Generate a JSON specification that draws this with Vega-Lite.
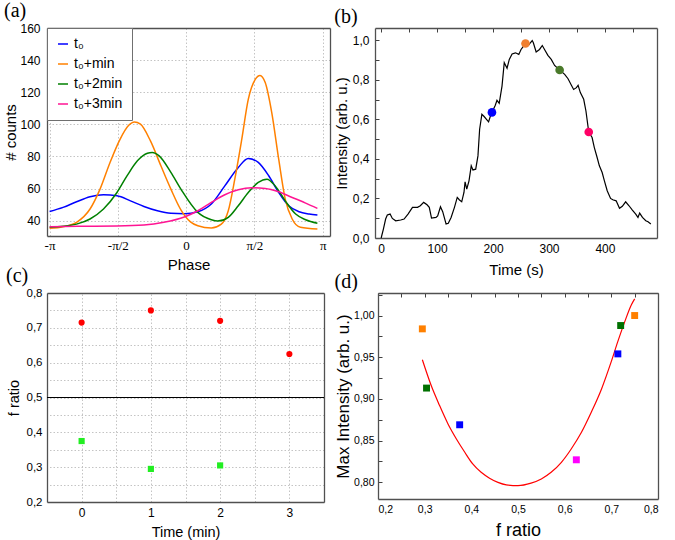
{
  "$schema": "https://vega.github.io/schema/vega-lite/v6.json",
  "padding": {"left": 3, "top": 1, "right": 2, "bottom": 1},
  "background": "white",
  "config": {
    "font": "Liberation Sans",
    "view": {"stroke": null},
    "axis": {
      "grid": true, "gridColor": "#bdbdbd", "gridDash": [1.5, 2], "gridWidth": 0.9,
      "domain": true, "domainColor": "#505050", "domainWidth": 1.3,
      "ticks": false,
      "labelFont": "Liberation Sans", "labelFontSize": 12, "labelColor": "black",
      "titleFont": "Liberation Sans", "titleFontSize": 15, "titleFontWeight": "normal", "titleColor": "black",
      "titlePadding": 3
    },
    "axisX": {"labelPadding": 5},
    "axisY": {"labelPadding": 6},
    "title": {"font": "Liberation Serif", "fontSize": 20, "fontWeight": "normal", "anchor": "start", "frame": "bounds", "offset": 1, "color": "black"}
  },
  "resolve": {"scale": {"color": "independent", "shape": "independent"}, "legend": {"color": "independent"}},
  "columns": 1,
  "spacing": -11,
  "concat": [
    {
      "columns": 2,
      "spacing": 4,
      "resolve": {"scale": {"color": "independent", "shape": "independent"}, "legend": {"color": "independent"}},
      "concat": [
        {
          "title": {"text": "(a)", "dx": 0},
          "width": 283, "height": 208,
          "data": {"values": [
            {"s":"t₀","p":-3.14,"c":45.7},{"s":"t₀","p":-2.83,"c":48.3},{"s":"t₀","p":-2.52,"c":51.8},{"s":"t₀","p":-2.21,"c":54.9},{"s":"t₀","p":-1.9,"c":56.2},{"s":"t₀","p":-1.59,"c":55.5},{"s":"t₀","p":-1.28,"c":52.4},{"s":"t₀","p":-0.97,"c":48.9},{"s":"t₀","p":-0.66,"c":46.2},{"s":"t₀","p":-0.35,"c":44.6},{"s":"t₀","p":-0.04,"c":44.3},{"s":"t₀","p":0.27,"c":45.6},{"s":"t₀","p":0.58,"c":50.4},{"s":"t₀","p":0.89,"c":61.7},{"s":"t₀","p":1.2,"c":73.2},{"s":"t₀","p":1.43,"c":78.8},{"s":"t₀","p":1.66,"c":76.3},{"s":"t₀","p":1.9,"c":68.0},{"s":"t₀","p":2.13,"c":57.6},{"s":"t₀","p":2.36,"c":49.3},{"s":"t₀","p":2.6,"c":45.6},{"s":"t₀","p":2.83,"c":44.2},{"s":"t₀","p":3.02,"c":43.5},
            {"s":"t₀+min","p":-3.14,"c":35.3},{"s":"t₀+min","p":-2.83,"c":36.3},{"s":"t₀+min","p":-2.52,"c":39.0},{"s":"t₀+min","p":-2.21,"c":47.3},{"s":"t₀+min","p":-1.98,"c":59.7},{"s":"t₀+min","p":-1.75,"c":76.3},{"s":"t₀+min","p":-1.52,"c":90.7},{"s":"t₀+min","p":-1.32,"c":99.4},{"s":"t₀+min","p":-1.19,"c":101.5},{"s":"t₀+min","p":-1.05,"c":100.1},{"s":"t₀+min","p":-0.82,"c":89.7},{"s":"t₀+min","p":-0.58,"c":74.2},{"s":"t₀+min","p":-0.35,"c":59.7},{"s":"t₀+min","p":-0.12,"c":46.8},{"s":"t₀+min","p":0.1,"c":39.3},{"s":"t₀+min","p":0.27,"c":36.9},{"s":"t₀+min","p":0.58,"c":35.5},{"s":"t₀+min","p":0.81,"c":37.9},{"s":"t₀+min","p":0.97,"c":46.2},{"s":"t₀+min","p":1.12,"c":65.9},{"s":"t₀+min","p":1.28,"c":90.7},{"s":"t₀+min","p":1.43,"c":115.6},{"s":"t₀+min","p":1.59,"c":128.0},{"s":"t₀+min","p":1.7,"c":130.5},{"s":"t₀+min","p":1.82,"c":126.0},{"s":"t₀+min","p":1.97,"c":107.3},{"s":"t₀+min","p":2.13,"c":78.3},{"s":"t₀+min","p":2.28,"c":53.5},{"s":"t₀+min","p":2.44,"c":41.1},{"s":"t₀+min","p":2.63,"c":35.9},{"s":"t₀+min","p":3.02,"c":34.8},
            {"s":"t₀+2min","p":-3.14,"c":35.9},{"s":"t₀+2min","p":-2.83,"c":36.5},{"s":"t₀+2min","p":-2.52,"c":37.9},{"s":"t₀+2min","p":-2.21,"c":41.1},{"s":"t₀+2min","p":-1.9,"c":47.3},{"s":"t₀+2min","p":-1.59,"c":57.6},{"s":"t₀+2min","p":-1.36,"c":67.9},{"s":"t₀+2min","p":-1.12,"c":77.3},{"s":"t₀+2min","p":-0.89,"c":82.0},{"s":"t₀+2min","p":-0.78,"c":82.5},{"s":"t₀+2min","p":-0.62,"c":80.4},{"s":"t₀+2min","p":-0.35,"c":70.1},{"s":"t₀+2min","p":-0.12,"c":59.7},{"s":"t₀+2min","p":0.27,"c":45.2},{"s":"t₀+2min","p":0.58,"c":40.6},{"s":"t₀+2min","p":0.73,"c":39.8},{"s":"t₀+2min","p":0.97,"c":42.1},{"s":"t₀+2min","p":1.2,"c":49.3},{"s":"t₀+2min","p":1.43,"c":57.6},{"s":"t₀+2min","p":1.66,"c":63.9},{"s":"t₀+2min","p":1.86,"c":65.9},{"s":"t₀+2min","p":2.05,"c":61.7},{"s":"t₀+2min","p":2.28,"c":52.4},{"s":"t₀+2min","p":2.52,"c":44.2},{"s":"t₀+2min","p":2.75,"c":40.6},{"s":"t₀+2min","p":3.02,"c":38.4},
            {"s":"t₀+3min","p":-3.14,"c":36.3},{"s":"t₀+3min","p":-2.5,"c":36.5},{"s":"t₀+3min","p":-1.6,"c":36.7},{"s":"t₀+3min","p":-0.97,"c":37.3},{"s":"t₀+3min","p":-0.51,"c":39.0},{"s":"t₀+3min","p":-0.04,"c":42.3},{"s":"t₀+3min","p":0.27,"c":46.2},{"s":"t₀+3min","p":0.58,"c":51.4},{"s":"t₀+3min","p":0.89,"c":56.2},{"s":"t₀+3min","p":1.2,"c":59.3},{"s":"t₀+3min","p":1.51,"c":60.5},{"s":"t₀+3min","p":1.82,"c":60.1},{"s":"t₀+3min","p":2.13,"c":58.0},{"s":"t₀+3min","p":2.44,"c":54.5},{"s":"t₀+3min","p":2.75,"c":51.0},{"s":"t₀+3min","p":3.02,"c":47.7}
          ]},
          "resolve": {"axis": {"x": "independent", "y": "independent"}},
          "layer": [
            {
              "mark": {"type": "point", "opacity": 0},
              "encoding": {
                "x": {"field": "p", "type": "quantitative",
                      "axis": {"orient": "top", "labels": false, "title": null, "domain": true,
                               "values": [-3.14159, -1.5708, 0, 1.5708, 3.14159]}},
                "y": {"field": "c", "type": "quantitative",
                      "axis": {"orient": "right", "labels": false, "title": null, "domain": true,
                               "values": [40, 60, 80, 100, 120, 140, 160]}}
              }
            },
            {
              "mark": {"type": "point", "opacity": 0},
              "encoding": {
                "x": {"field": "p", "type": "quantitative",
                      "axis": {"orient": "top", "labels": false, "title": null, "domain": false, "gridDash": [4, 1000], "gridColor": "#404040", "gridWidth": 1,
                               "values": [-3.14159, -2.35619, -1.5708, -0.7854, 0, 0.7854, 1.5708, 2.35619, 3.14159]}},
                "y": {"field": "c", "type": "quantitative",
                      "axis": {"orient": "right", "labels": false, "title": null, "domain": false, "gridDash": [4, 1000], "gridColor": "#404040", "gridWidth": 1,
                               "values": [40, 50, 60, 70, 80, 90, 100, 110, 120, 130, 140, 150, 160]}}
              }
            },
            {
              "mark": {"type": "line", "interpolate": "monotone", "strokeWidth": 1.5},
              "encoding": {
                "x": {"field": "p", "type": "quantitative", "scale": {"domain": [-3.2, 3.31], "nice": false, "zero": false},
                      "axis": {"title": "Phase", "values": [-3.14159, -2.35619, -1.5708, -0.7854, 0, 0.7854, 1.5708, 2.35619, 3.14159],
                               "gridDash": [4, 1000], "gridColor": "#404040", "gridWidth": 1,
                               "labelExpr": "datum.value < -3 ? '-π' : datum.value < -1.6 ? '' : datum.value < -1 ? '-π/2' : datum.value > 3 ? 'π' : datum.value > 1.6 ? '' : datum.value > 1 ? 'π/2' : abs(datum.value) < 0.1 ? '0' : ''",
                               "labelFont": "Liberation Serif", "labelFontSize": 13, "labelPadding": 3, "titlePadding": 5}},
                "y": {"field": "c", "type": "quantitative", "scale": {"domain": [30.5, 160], "nice": false, "zero": false},
                      "axis": {"title": "# counts", "values": [40, 50, 60, 70, 80, 90, 100, 110, 120, 130, 140, 150, 160],
                               "gridDash": [4, 1000], "gridColor": "#404040", "gridWidth": 1,
                               "labelExpr": "datum.value % 20 == 0 ? format(datum.value, 'd') : ''", "labelPadding": 7, "titlePadding": 1}},
                "color": {"field": "s", "type": "nominal",
                          "scale": {"domain": ["t₀", "t₀+min", "t₀+2min", "t₀+3min"], "range": ["#0000ff", "#ff8000", "#008000", "#ff1493"]},
                          "legend": {"title": null, "orient": "none", "legendX": 0, "legendY": 0, "fillColor": "white", "strokeColor": "#707070",
                                     "padding": 9, "labelFontSize": 14, "labelFont": "Liberation Sans", "labelColor": "black", "rowPadding": 6}}
              }
            }
          ]
        },
        {
          "title": {"text": "(b)", "dx": 0},
          "width": 282, "height": 210,
          "resolve": {"axis": {"x": "independent", "y": "independent"}},
          "layer": [
            {
              "data": {"values": [
                {"t":0,"i":0.0},{"t":4,"i":0.045},{"t":8,"i":0.096},{"t":11,"i":0.116},{"t":16,"i":0.121},{"t":20,"i":0.099},{"t":26,"i":0.087},{"t":35,"i":0.091},{"t":41,"i":0.096},{"t":48,"i":0.121},{"t":56,"i":0.155},{"t":65,"i":0.155},{"t":70,"i":0.163},{"t":76,"i":0.18},{"t":82,"i":0.168},{"t":86,"i":0.155},{"t":90,"i":0.101},{"t":98,"i":0.104},{"t":101,"i":0.112},{"t":106,"i":0.158},{"t":110,"i":0.133},{"t":116,"i":0.071},{"t":120,"i":0.074},{"t":125,"i":0.104},{"t":131,"i":0.155},{"t":136,"i":0.205},{"t":140,"i":0.192},{"t":144,"i":0.183},{"t":148,"i":0.23},{"t":150,"i":0.284},{"t":153,"i":0.247},{"t":157,"i":0.289},{"t":161,"i":0.365},{"t":164,"i":0.344},{"t":169,"i":0.348},{"t":173,"i":0.415},{"t":176,"i":0.55},{"t":180,"i":0.625},{"t":184,"i":0.614},{"t":189,"i":0.597},{"t":192,"i":0.587},{"t":195,"i":0.614},{"t":198,"i":0.635},{"t":204,"i":0.671},{"t":207,"i":0.696},{"t":211,"i":0.681},{"t":216,"i":0.768},{"t":220,"i":0.886},{"t":225,"i":0.858},{"t":229,"i":0.903},{"t":234,"i":0.93},{"t":240,"i":0.936},{"t":246,"i":0.928},{"t":250,"i":0.953},{"t":258,"i":0.983},{"t":264,"i":0.978},{"t":270,"i":0.998},{"t":272,"i":0.987},{"t":277,"i":0.94},{"t":283,"i":0.953},{"t":288,"i":0.973},{"t":292,"i":0.953},{"t":298,"i":0.923},{"t":304,"i":0.903},{"t":310,"i":0.872},{"t":319,"i":0.849},{"t":328,"i":0.827},{"t":334,"i":0.805},{"t":340,"i":0.772},{"t":344,"i":0.751},{"t":349,"i":0.76},{"t":352,"i":0.772},{"t":356,"i":0.735},{"t":362,"i":0.701},{"t":366,"i":0.642},{"t":371,"i":0.536},{"t":377,"i":0.508},{"t":381,"i":0.457},{"t":386,"i":0.407},{"t":390,"i":0.365},{"t":395,"i":0.331},{"t":399,"i":0.289},{"t":404,"i":0.239},{"t":410,"i":0.2},{"t":414,"i":0.193},{"t":420,"i":0.188},{"t":426,"i":0.15},{"t":431,"i":0.16},{"t":437,"i":0.183},{"t":443,"i":0.163},{"t":449,"i":0.141},{"t":455,"i":0.121},{"t":459,"i":0.104},{"t":462,"i":0.126},{"t":467,"i":0.104},{"t":473,"i":0.087},{"t":477,"i":0.082},{"t":482,"i":0.071}
              ]},
              "mark": {"type": "line", "color": "black", "strokeWidth": 1.2},
              "encoding": {
                "x": {"field": "t", "type": "quantitative", "scale": {"domain": [-11, 493], "nice": false, "zero": false},
                      "axis": {"title": "Time (s)", "values": [0, 50, 100, 150, 200, 250, 300, 350, 400, 450],
                               "gridDash": [4, 1000], "gridColor": "#404040", "gridWidth": 1,
                               "labelExpr": "datum.value % 100 == 0 ? format(datum.value, 'd') : ''", "labelPadding": 5, "titlePadding": 8}},
                "y": {"field": "i", "type": "quantitative", "scale": {"domain": [0, 1.0615], "nice": false, "zero": false},
                      "axis": {"title": "Intensity (arb. u.)", "values": [0, 0.1, 0.2, 0.3, 0.4, 0.5, 0.6, 0.7, 0.8, 0.9, 1.0],
                               "gridDash": [4, 1000], "gridColor": "#404040", "gridWidth": 1,
                               "labelExpr": "round(datum.value * 10) % 2 == 0 ? replace(format(datum.value, '.1f'), '.', ',') : ''", "labelPadding": 6, "titlePadding": 3}}
              }
            },
            {
              "data": {"values": [
                {"s":"t₀","t":198,"i":0.635},{"s":"t₀+min","t":258,"i":0.983},{"s":"t₀+2min","t":319,"i":0.849},{"s":"t₀+3min","t":371,"i":0.536}
              ]},
              "mark": {"type": "point", "opacity": 0},
              "encoding": {
                "x": {"field": "t", "type": "quantitative",
                      "axis": {"orient": "top", "labels": false, "title": null, "domain": true, "values": [0, 50, 100, 150, 200, 250, 300, 350, 400, 450]}},
                "y": {"field": "i", "type": "quantitative",
                      "axis": {"orient": "right", "labels": false, "title": null, "domain": true, "values": [0, 0.1, 0.2, 0.3, 0.4, 0.5, 0.6, 0.7, 0.8, 0.9, 1.0]}}
              }
            },
            {
              "data": {"values": [
                {"s":"t₀","t":198,"i":0.635},{"s":"t₀+min","t":258,"i":0.983},{"s":"t₀+2min","t":319,"i":0.849},{"s":"t₀+3min","t":371,"i":0.536}
              ]},
              "mark": {"type": "point", "opacity": 0},
              "encoding": {
                "x": {"field": "t", "type": "quantitative",
                      "axis": {"orient": "top", "labels": false, "title": null, "domain": false, "gridDash": [4, 1000], "gridColor": "#404040", "gridWidth": 1,
                               "values": [0, 50, 100, 150, 200, 250, 300, 350, 400, 450]}},
                "y": {"field": "i", "type": "quantitative",
                      "axis": {"orient": "right", "labels": false, "title": null, "domain": false, "gridDash": [4, 1000], "gridColor": "#404040", "gridWidth": 1,
                               "values": [0, 0.1, 0.2, 0.3, 0.4, 0.5, 0.6, 0.7, 0.8, 0.9, 1.0]}}
              }
            },
            {
              "data": {"values": [
                {"s":"t₀","t":198,"i":0.635},{"s":"t₀+min","t":258,"i":0.983},{"s":"t₀+2min","t":319,"i":0.849},{"s":"t₀+3min","t":371,"i":0.536}
              ]},
              "mark": {"type": "circle", "size": 75, "opacity": 1},
              "encoding": {
                "x": {"field": "t", "type": "quantitative", "axis": null},
                "y": {"field": "i", "type": "quantitative", "axis": null},
                "color": {"field": "s", "type": "nominal", "legend": null,
                          "scale": {"domain": ["t₀", "t₀+min", "t₀+2min", "t₀+3min"], "range": ["#0000ff", "#f08030", "#4a7a2a", "#ff0066"]}}
              }
            }
          ]
        }
      ]
    },
    {
      "columns": 2,
      "spacing": 9,
      "resolve": {"scale": {"color": "independent", "shape": "independent"}, "legend": {"color": "independent"}},
      "concat": [
        {
          "title": {"text": "(c)", "dx": 0},
          "width": 277, "height": 209,
          "data": {"values": [
            {"m":0,"f":0.715,"g":"high"},{"m":1,"f":0.75,"g":"high"},{"m":2,"f":0.72,"g":"high"},{"m":3,"f":0.625,"g":"high"},
            {"m":0,"f":0.375,"g":"low"},{"m":1,"f":0.295,"g":"low"},{"m":2,"f":0.305,"g":"low"}
          ]},
          "resolve": {"axis": {"x": "independent", "y": "independent"}},
          "layer": [
            {
              "mark": {"type": "point", "opacity": 0},
              "encoding": {
                "x": {"field": "m", "type": "quantitative",
                      "axis": {"orient": "top", "labels": false, "title": null, "domain": true, "values": [0, 0.5, 1, 1.5, 2, 2.5, 3]}},
                "y": {"field": "f", "type": "quantitative",
                      "axis": {"orient": "right", "labels": false, "title": null, "domain": true, "values": [0.2, 0.25, 0.3, 0.35, 0.4, 0.45, 0.5, 0.55, 0.6, 0.65, 0.7, 0.75, 0.8]}}
              }
            },
            {
              "mark": {"type": "point", "opacity": 0},
              "encoding": {
                "x": {"field": "m", "type": "quantitative",
                      "axis": {"orient": "top", "labels": false, "title": null, "domain": false, "gridDash": [4, 1000], "gridColor": "#404040", "gridWidth": 1,
                               "values": [0, 0.5, 1, 1.5, 2, 2.5, 3]}},
                "y": {"field": "f", "type": "quantitative",
                      "axis": {"orient": "right", "labels": false, "title": null, "domain": false, "gridDash": [4, 1000], "gridColor": "#404040", "gridWidth": 1,
                               "values": [0.2, 0.25, 0.3, 0.35, 0.4, 0.45, 0.5, 0.55, 0.6, 0.65, 0.7, 0.75, 0.8]}}
              }
            },
            {
              "mark": {"type": "point", "filled": true, "opacity": 1, "size": 38},
              "encoding": {
                "x": {"field": "m", "type": "quantitative", "scale": {"domain": [-0.5, 3.5], "nice": false, "zero": false},
                      "axis": {"title": "Time (min)", "values": [0, 0.5, 1, 1.5, 2, 2.5, 3], "titleFontSize": 14.5,
                               "gridDash": [4, 1000], "gridColor": "#404040", "gridWidth": 1,
                               "labelExpr": "datum.value % 1 == 0 ? format(datum.value, 'd') : ''", "labelPadding": 5, "titlePadding": 7}},
                "y": {"field": "f", "type": "quantitative", "scale": {"domain": [0.2, 0.8], "nice": false, "zero": false},
                      "axis": {"title": "f ratio", "values": [0.2, 0.25, 0.3, 0.35, 0.4, 0.45, 0.5, 0.55, 0.6, 0.65, 0.7, 0.75, 0.8], "titleFontSize": 14.5, "labelFontSize": 11.5,
                               "gridDash": [4, 1000], "gridColor": "#404040", "gridWidth": 1,
                               "labelExpr": "abs(datum.value * 10 - round(datum.value * 10)) < 0.01 ? replace(format(datum.value, '.1f'), '.', ',') : ''", "labelPadding": 5, "titlePadding": 5}},
                "shape": {"field": "g", "type": "nominal", "legend": null, "scale": {"domain": ["high", "low"], "range": ["circle", "square"]}},
                "color": {"field": "g", "type": "nominal", "legend": null, "scale": {"domain": ["high", "low"], "range": ["#ff0000", "#22ee22"]}}
              }
            },
            {
              "mark": {"type": "rule", "color": "black", "strokeWidth": 1.1},
              "encoding": {"y": {"datum": 0.5, "type": "quantitative", "axis": null}}
            }
          ]
        },
        {
          "title": {"text": "(d)", "dx": 0},
          "width": 280, "height": 206,
          "resolve": {"axis": {"x": "independent", "y": "independent"}},
          "layer": [
            {
              "data": {"values": [
                {"f":0.295,"v":0.947},{"f":0.314,"v":0.916},{"f":0.332,"v":0.892},{"f":0.35,"v":0.870},{"f":0.368,"v":0.852},{"f":0.386,"v":0.836},{"f":0.403,"v":0.822},{"f":0.421,"v":0.812},{"f":0.439,"v":0.805},{"f":0.457,"v":0.800},{"f":0.475,"v":0.797},{"f":0.5,"v":0.796},{"f":0.528,"v":0.799},{"f":0.55,"v":0.804},{"f":0.571,"v":0.812},{"f":0.593,"v":0.824},{"f":0.614,"v":0.840},{"f":0.636,"v":0.860},{"f":0.657,"v":0.884},{"f":0.679,"v":0.912},{"f":0.7,"v":0.945},{"f":0.714,"v":0.969},{"f":0.729,"v":0.993},{"f":0.743,"v":1.013},{"f":0.75,"v":1.02}
              ]},
              "mark": {"type": "line", "color": "#ff0000", "strokeWidth": 1.2, "interpolate": "monotone"},
              "encoding": {
                "x": {"field": "f", "type": "quantitative", "scale": {"domain": [0.2, 0.8], "nice": false, "zero": false},
                      "axis": {"title": "f ratio", "values": [0.2, 0.25, 0.3, 0.35, 0.4, 0.45, 0.5, 0.55, 0.6, 0.65, 0.7, 0.75, 0.8],
                               "gridDash": [4, 1000], "gridColor": "#404040", "gridWidth": 1,
                               "labelExpr": "abs(datum.value * 10 - round(datum.value * 10)) < 0.01 ? replace(format(datum.value, '.1f'), '.', ',') : ''",
                               "labelPadding": 5, "labelFontSize": 10.5, "titleFontSize": 18, "titlePadding": 7}},
                "y": {"field": "v", "type": "quantitative", "scale": {"domain": [0.78, 1.027], "nice": false, "zero": false},
                      "axis": {"title": "Max Intensity (arb. u.)", "values": [0.8, 0.825, 0.85, 0.875, 0.9, 0.925, 0.95, 0.975, 1.0, 1.025],
                               "gridDash": [4, 1000], "gridColor": "#404040", "gridWidth": 1,
                               "labelExpr": "abs(datum.value * 20 - round(datum.value * 20)) < 0.01 ? replace(format(datum.value, '.2f'), '.', ',') : ''",
                               "labelPadding": 4, "labelFontSize": 10.5, "titleFontSize": 17, "titlePadding": 1}}
              }
            },
            {
              "data": {"values": [
                {"s":"t₀+min","f":0.295,"v":0.984},{"s":"t₀+2min","f":0.304,"v":0.913},{"s":"t₀","f":0.375,"v":0.869},{"s":"t₀+3min","f":0.625,"v":0.827},{"s":"t₀","f":0.714,"v":0.954},{"s":"t₀+2min","f":0.72,"v":0.988},{"s":"t₀+min","f":0.75,"v":1.0}
              ]},
              "mark": {"type": "point", "opacity": 0},
              "encoding": {
                "x": {"field": "f", "type": "quantitative",
                      "axis": {"orient": "top", "labels": false, "title": null, "domain": true, "values": [0.2, 0.25, 0.3, 0.35, 0.4, 0.45, 0.5, 0.55, 0.6, 0.65, 0.7, 0.75, 0.8]}},
                "y": {"field": "v", "type": "quantitative",
                      "axis": {"orient": "right", "labels": false, "title": null, "domain": true, "values": [0.8, 0.825, 0.85, 0.875, 0.9, 0.925, 0.95, 0.975, 1.0, 1.025]}}
              }
            },
            {
              "data": {"values": [
                {"s":"t₀+min","f":0.295,"v":0.984},{"s":"t₀+2min","f":0.304,"v":0.913},{"s":"t₀","f":0.375,"v":0.869},{"s":"t₀+3min","f":0.625,"v":0.827},{"s":"t₀","f":0.714,"v":0.954},{"s":"t₀+2min","f":0.72,"v":0.988},{"s":"t₀+min","f":0.75,"v":1.0}
              ]},
              "mark": {"type": "point", "opacity": 0},
              "encoding": {
                "x": {"field": "f", "type": "quantitative",
                      "axis": {"orient": "top", "labels": false, "title": null, "domain": false, "gridDash": [4, 1000], "gridColor": "#404040", "gridWidth": 1,
                               "values": [0.2, 0.25, 0.3, 0.35, 0.4, 0.45, 0.5, 0.55, 0.6, 0.65, 0.7, 0.75, 0.8]}},
                "y": {"field": "v", "type": "quantitative",
                      "axis": {"orient": "right", "labels": false, "title": null, "domain": false, "gridDash": [4, 1000], "gridColor": "#404040", "gridWidth": 1,
                               "values": [0.8, 0.825, 0.85, 0.875, 0.9, 0.925, 0.95, 0.975, 1.0, 1.025]}}
              }
            },
            {
              "data": {"values": [
                {"s":"t₀+min","f":0.295,"v":0.984},{"s":"t₀+2min","f":0.304,"v":0.913},{"s":"t₀","f":0.375,"v":0.869},{"s":"t₀+3min","f":0.625,"v":0.827},{"s":"t₀","f":0.714,"v":0.954},{"s":"t₀+2min","f":0.72,"v":0.988},{"s":"t₀+min","f":0.75,"v":1.0}
              ]},
              "mark": {"type": "square", "size": 48, "opacity": 1},
              "encoding": {
                "x": {"field": "f", "type": "quantitative", "axis": null},
                "y": {"field": "v", "type": "quantitative", "axis": null},
                "color": {"field": "s", "type": "nominal", "legend": null,
                          "scale": {"domain": ["t₀", "t₀+min", "t₀+2min", "t₀+3min"], "range": ["#0000ff", "#ff8000", "#007000", "#ff00ff"]}}
              }
            }
          ]
        }
      ]
    }
  ]
}
